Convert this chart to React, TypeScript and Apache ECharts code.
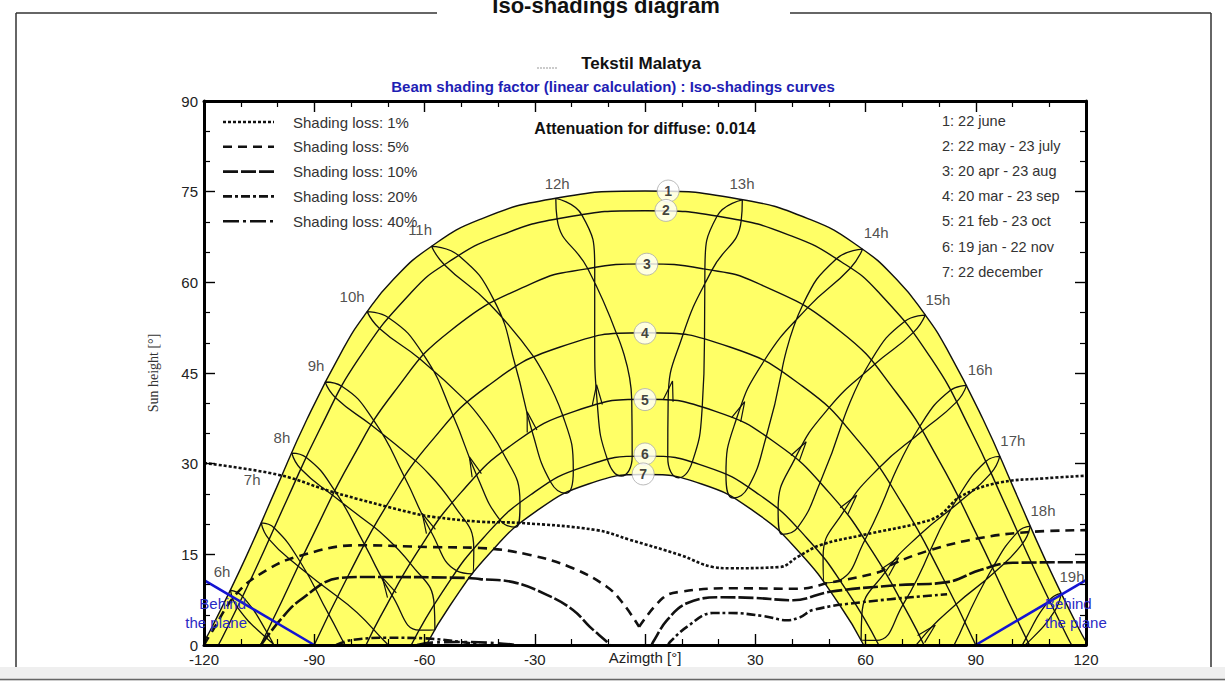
import { useEffect, useRef } from 'react';
import * as echarts from 'echarts';

const FONT = '"Liberation Sans", Arial, Helvetica, sans-serif';

// Sun paths [azimuth °, sun height °] for the seven date families
const path1 = [[-120.5, 0], [-117.4, 3.47], [-108.78, 14.29], [-100.53, 25.66], [-91.98, 37.34], [-82.06, 49.08], [-75.96, 54.86], [-68.5, 60.46], [-58.64, 65.72], [-44.9, 70.4], [-25.4, 73.79], [0, 75.1], [25.4, 73.79], [44.9, 70.4], [58.64, 65.72], [68.5, 60.46], [75.96, 54.86], [82.06, 49.08], [91.98, 37.34], [100.53, 25.66], [108.78, 14.29], [117.4, 3.47], [120.5, 0]];
const path2 = [[-116.1, 0], [-114.9, 1.36], [-106.1, 12.37], [-97.55, 23.87], [-88.56, 35.61], [-78.0, 47.28], [-63.5, 58.4], [-53.37, 63.41], [-39.8, 67.68], [-21.8, 70.73], [0, 71.85], [21.8, 70.73], [39.8, 67.68], [53.37, 63.41], [63.5, 58.4], [78.0, 47.28], [88.56, 35.61], [97.55, 23.87], [106.1, 12.37], [114.9, 1.36], [116.1, 0]];
const path3 = [[-104.6, 0], [-98.99, 7.04], [-89.86, 18.76], [-80.05, 30.47], [-68.37, 41.77], [-52.84, 52.04], [-30.45, 59.9], [-15.9, 62.22], [0, 63.05], [15.9, 62.22], [30.45, 59.9], [52.84, 52.04], [68.37, 41.77], [80.05, 30.47], [89.86, 18.76], [98.99, 7.04], [104.6, 0]];
const path4 = [[-90, 0], [-80.56, 11.71], [-70.29, 23.09], [-58.18, 33.68], [-42.94, 42.78], [-23.3, 49.26], [0, 51.65], [23.3, 49.26], [42.94, 42.78], [58.18, 33.68], [70.29, 23.09], [80.56, 11.71], [90, 0]];
const path5 = [[-75.9, 0], [-72.04, 4.64], [-61.89, 15.46], [-50.1, 25.21], [-35.94, 33.25], [-19.0, 38.7], [0, 40.65], [19.0, 38.7], [35.94, 33.25], [50.1, 25.21], [61.89, 15.46], [72.04, 4.64], [75.9, 0]];
const path6 = [[-63.6, 0], [-55.2, 8.7], [-44.07, 17.67], [-31.1, 24.85], [-16.17, 29.59], [0, 31.25], [16.17, 29.59], [31.1, 24.85], [44.07, 17.67], [55.2, 8.7], [63.6, 0]];
const path7 = [[-59.5, 0], [-53.1, 6.49], [-42.24, 15.19], [-29.67, 22.11], [-15.4, 26.63], [0, 28.2], [15.4, 26.63], [29.67, 22.11], [42.24, 15.19], [53.1, 6.49], [59.5, 0]];
const innerPaths = [path2, path3, path4, path5, path6];

// Numbered tags sitting on the date curves
const dateTags = [[6.3, 75.1], [5.7, 71.9], [0.5, 63.0], [0, 51.6], [0, 40.6], [0, 31.6], [-0.5, 28.3]];
const dateLegend = ['1: 22 june', '2: 22 may - 23 july', '3: 20 apr - 23 aug', '4: 20 mar - 23 sep', '5: 21 feb - 23 oct', '6: 19 jan - 22 nov', '7: 22 december'];

// Hour loops, sampled Sep, Oct, Nov, Dec, Jan, Feb, Mar, Apr, May, Jun, Jul, Aug and back to Sep
const h06 = [[-92.97, -3.76], [-83.02, -8.97], [-75.56, -14.9], [-74.65, -18.94], [-79.05, -19.6], [-87.48, -14.7], [-95.35, -6.73], [-102.89, 2.11], [-109.47, 8.01], [-112.8, 9.06], [-110.9, 6.21], [-103.45, 1.41], [-92.97, -3.76]];
const h07 = [[-83.63, 7.99], [-73.82, 2.54], [-66.85, -3.78], [-66.25, -7.86], [-70.48, -8.27], [-78.36, -3.03], [-86.01, 5.02], [-93.79, 13.73], [-100.88, 19.35], [-104.44, 20.19], [-102.28, 17.47], [-94.35, 13.02], [-83.63, 7.99]];
const h08 = [[-73.72, 19.51], [-63.88, 13.51], [-57.36, 6.62], [-57.17, 2.49], [-61.39, 2.46], [-68.87, 8.24], [-76.33, 16.64], [-84.38, 25.49], [-92.17, 31.03], [-96.13, 31.76], [-93.64, 29.11], [-84.99, 24.77], [-73.72, 19.51]];
const h09 = [[-62.33, 30.42], [-52.45, 23.5], [-46.59, 15.88], [-46.92, 11.78], [-51.2, 12.26], [-58.25, 18.78], [-65.41, 27.75], [-73.69, 37.03], [-82.41, 42.78], [-87.05, 43.51], [-84.13, 40.87], [-74.4, 36.34], [-62.33, 30.42]];
const h10 = [[-48.22, 40.1], [-38.78, 31.93], [-34.02, 23.51], [-35.09, 19.51], [-39.4, 20.63], [-45.78, 28.06], [-52.13, 37.82], [-60.1, 47.86], [-69.88, 54.19], [-75.62, 55.15], [-72.24, 52.37], [-61.06, 47.24], [-48.22, 40.1]];
const h11 = [[-30.12, 47.56], [-22.35, 37.93], [-19.51, 28.82], [-21.5, 25.09], [-25.69, 26.97], [-30.73, 35.36], [-35.15, 45.96], [-41.03, 56.97], [-50.7, 64.43], [-58.1, 65.96], [-54.6, 62.92], [-42.43, 56.49], [-30.12, 47.56]];
const h12 = [[-7.69, 51.42], [-3.61, 40.59], [-3.49, 31.18], [-6.45, 27.95], [-10.18, 30.6], [-12.96, 39.75], [-13.69, 50.85], [-13.68, 62.44], [-17.2, 71.17], [-24.27, 73.88], [-23.92, 70.5], [-15.56, 62.25], [-7.69, 51.42]];
const h13 = [[16.19, 50.52], [15.57, 39.36], [12.83, 30.21], [9.11, 27.67], [6.19, 31.01], [6.3, 40.44], [10.26, 51.21], [18.16, 61.98], [26.18, 70.2], [26.48, 73.65], [19.63, 70.97], [16.3, 62.18], [16.19, 50.52]];
const h14 = [[37.19, 45.2], [33.0, 34.49], [28.08, 26.09], [23.96, 24.31], [22.03, 28.13], [24.8, 37.27], [32.29, 46.9], [44.28, 55.81], [55.85, 62.34], [59.18, 65.49], [52.1, 63.9], [42.94, 56.3], [37.19, 45.2]];
const h15 = [[53.71, 36.8], [47.65, 26.87], [41.47, 19.38], [37.26, 18.31], [36.22, 22.4], [40.84, 30.88], [49.92, 39.14], [62.35, 46.35], [73.05, 51.72], [76.28, 54.59], [70.73, 53.56], [61.42, 46.99], [53.71, 36.8]];
const h16 = [[66.68, 26.59], [59.84, 17.37], [52.98, 10.72], [48.79, 10.28], [48.46, 14.46], [54.16, 22.19], [63.65, 29.29], [75.37, 35.38], [84.73, 40.18], [87.51, 42.95], [83.03, 42.1], [74.67, 36.07], [66.68, 26.59]];
const h17 = [[77.42, 15.4], [70.24, 6.71], [62.94, 0.76], [58.81, 0.77], [59.0, 4.97], [65.32, 12.03], [74.84, 18.29], [85.81, 23.78], [94.15, 28.43], [96.54, 31.2], [92.7, 30.35], [85.22, 24.49], [77.42, 15.4]];
const h18 = [[87.02, 3.76], [79.64, -4.64], [71.9, -10.1], [67.73, -9.73], [68.32, -5.57], [75.13, 0.97], [84.65, 6.73], [95.12, 12.03], [102.77, 16.8], [104.84, 19.65], [101.38, 18.68], [94.56, 12.74], [87.02, 3.76]];
const h19 = [[96.37, -7.99], [88.76, -16.33], [80.44, -21.5], [76.07, -20.9], [76.96, -16.8], [84.29, -10.6], [93.99, -5.02], [104.24, 0.45], [111.42, 5.57], [113.21, 8.53], [109.98, 7.37], [103.68, 1.14], [96.37, -7.99]];
const hourLoops = [h06, h07, h08, h09, h10, h11, h12, h13, h14, h15, h16, h17, h18, h19];
const hourNames = ['6h', '7h', '8h', '9h', '10h', '11h', '12h', '13h', '14h', '15h', '16h', '17h', '18h', '19h'];
const hourTagPos = [[-115.1, 12.1], [-106.9, 27.3], [-98.8, 34.4], [-89.5, 46.3], [-79.7, 57.7], [-61.2, 68.7], [-23.9, 76.4], [26.4, 76.4], [62.9, 68.2], [79.7, 57.1], [91.2, 45.5], [100.1, 33.9], [108.3, 22.3], [116.2, 11.3]];
// loops that carry a direction arrow (Feb -> Mar stretch)
const arrowLoops = [h08, h09, h10, h11, h12, h13, h14, h15, h16, h17, h18];

// Iso-shading curves [azimuth °, sun height °]
const loss1 = [[-120, 30.1], [-99.3, 28.1], [-84.9, 25.3], [-63.1, 21.8], [-57.7, 21.2], [-44.9, 20.4], [-34, 20.2], [-13.1, 19.0], [-4.1, 17.4], [9.5, 14.9], [18.5, 12.9], [23.1, 12.7], [36.7, 12.9], [41.6, 14.6], [47.6, 16.5], [59.3, 18.2], [74.8, 20.2], [80.3, 21.5], [85.7, 24.5], [95.8, 26.8], [109.4, 27.6], [120, 28.0]];
const loss5West = [[-120, 0], [-118.4, 1.65], [-111, 8.6], [-102.9, 12.4], [-94.7, 14.6], [-78.4, 16.5], [-57.7, 16.2], [-44.9, 16.05], [-31.3, 14.9], [-19.6, 12.7], [-10.3, 9.6], [-6.0, 6.9], [-1.6, 3.0]];
const loss5East = [[-1.6, 3.0], [4.9, 7.8], [9.5, 8.8], [23.1, 9.4], [41.4, 9.3], [50.3, 10.3], [63.9, 12.1], [66.7, 13.2], [77.6, 15.7], [91.2, 17.7], [104.8, 18.7], [120, 19.0]];
const loss10West = [[-104.5, 0], [-99.3, 4.1], [-93.9, 7.4], [-83, 11.1], [-75.6, 11.25], [-48.4, 11.1], [-44.9, 10.9], [-35.9, 10.4], [-26.7, 8.3], [-19.6, 5.8], [-15.0, 3.0], [-10.3, 0.5], [-9.6, 0]];
const loss10East = [[1.8, 0], [2.2, 0.5], [6.0, 4.1], [11.4, 6.9], [20.4, 7.9], [29.4, 7.8], [40.3, 7.4], [50.3, 8.8], [68.6, 9.9], [82.2, 10.4], [91.2, 12.4], [100.1, 13.6], [120, 13.7]];
const loss20West = [[-84, 0], [-80, 0.8], [-70, 1.2], [-60, 1.1], [-50, 0.5], [-45, 0]];
const loss20East = [[6.3, 0], [6.8, 0.5], [11.4, 3.0], [18.5, 5.3], [23.1, 5.3], [32.1, 4.8], [38.6, 4.1], [42.2, 4.6], [45.7, 5.8], [59.3, 7.1], [82.2, 8.4]];
const loss40 = [[-62, 0], [-58, 0.4], [-50, 0.5], [-40, 0.3], [-35, 0]];
const shadingLegend = ['Shading loss: 1%', 'Shading loss: 5%', 'Shading loss: 10%', 'Shading loss: 20%', 'Shading loss: 40%'];

// Horizon of the collector plane
const behindWest = [[-120, 10.75], [-90, 0]];
const behindEast = [[90, 0], [120, 10.75]];

const DASH1 = [3, 2];
const DASH5 = [9, 6];
const DASH10 = [15, 3];
const DASH20 = [9, 3, 3, 3];
const DASH40 = [16, 4, 3, 4];

const INK = '#111';
const BLUE = '#1414d2';

function lossLine(data: number[][], dash: number[]) {
  return {
    type: 'line', data, smooth: 0.4, symbol: 'none', z: 4, silent: true,
    lineStyle: { color: INK, width: 2.6, type: dash },
  };
}

function App() {
  const ref = useRef<HTMLDivElement>(null);

  useEffect(() => {
    if (!ref.current) return;
    const chart = echarts.init(ref.current, undefined, { renderer: 'svg' });

    const axisCommon = {
      type: 'value',
      z: 10,
      splitLine: { show: false },
      axisLine: { show: true, onZero: false, lineStyle: { color: '#000', width: 3 } },
      axisTick: { show: true, inside: true, length: 11, lineStyle: { color: '#000', width: 1.4 } },
      minorTick: { show: true, splitNumber: 3, length: 6, lineStyle: { color: '#000', width: 1.2 } },
    };

    const series: any[] = [];
    series.push({
      type: 'line', data: path1, smooth: true, symbol: 'none', z: 1, silent: true,
      lineStyle: { color: INK, width: 1.4 },
      areaStyle: { color: '#ffff66', opacity: 1, origin: 'start' },
    });
    series.push({
      type: 'line', data: path7, smooth: true, symbol: 'none', z: 2, silent: true,
      lineStyle: { color: INK, width: 1.4 },
      areaStyle: { color: '#ffffff', opacity: 1, origin: 'start' },
    });
    innerPaths.forEach((p) => series.push({
      type: 'line', data: p, smooth: true, symbol: 'none', z: 3, silent: true,
      lineStyle: { color: INK, width: 1.4 },
    }));
    hourLoops.forEach((p) => series.push({
      type: 'line', data: p, smooth: true, symbol: 'none', z: 3, silent: true,
      lineStyle: { color: INK, width: 1.3 },
    }));
    series.push({
      type: 'custom', z: 3, silent: true, clip: true,
      data: arrowLoops.map((p) => [p[5][0], p[5][1], p[6][0], p[6][1]]),
      encode: { x: [0, 2], y: [1, 3] },
      renderItem: (_params: any, api: any) => {
        const a = api.coord([api.value(0), api.value(1)]);
        const b = api.coord([api.value(2), api.value(3)]);
        let dx = b[0] - a[0];
        let dy = b[1] - a[1];
        const len = Math.hypot(dx, dy) || 1;
        dx /= len; dy /= len;
        const tip = [a[0] + dx * 20, a[1] + dy * 20];
        const l = [a[0] - dy * 5, a[1] + dx * 5];
        const r = [a[0] + dy * 5, a[1] - dx * 5];
        return {
          type: 'polyline',
          shape: { points: [l, tip, r] },
          style: { stroke: INK, lineWidth: 1.2, fill: null },
        };
      },
    });
    series.push(lossLine(loss1, DASH1));
    series.push(lossLine(loss5West, DASH5));
    series.push(lossLine(loss5East, DASH5));
    series.push(lossLine(loss10West, DASH10));
    series.push(lossLine(loss10East, DASH10));
    series.push(lossLine(loss20West, DASH20));
    series.push(lossLine(loss20East, DASH20));
    series.push(lossLine(loss40, DASH40));
    [behindWest, behindEast].forEach((p) => series.push({
      type: 'line', data: p, symbol: 'none', z: 5, silent: true,
      lineStyle: { color: BLUE, width: 2.6 },
    }));
    series.push({
      type: 'scatter', z: 6, silent: true, symbol: 'circle', symbolSize: 22,
      itemStyle: { color: '#fff', borderColor: '#aaa', borderWidth: 1 },
      label: {
        show: true, position: 'inside', formatter: '{b}',
        fontFamily: FONT, fontSize: 14, fontWeight: 'bold', color: INK,
      },
      data: dateTags.map((v, i) => ({ name: String(i + 1), value: v })),
    });
    series.push({
      type: 'scatter', z: 6, silent: true, symbol: 'circle', symbolSize: 1,
      itemStyle: { color: 'rgba(0,0,0,0)' },
      label: {
        show: true, position: 'inside', formatter: '{b}',
        fontFamily: FONT, fontSize: 15, color: '#222',
      },
      data: hourTagPos.map((v, i) => ({ name: hourNames[i], value: v })),
    });

    const graphic: any[] = [];
    const text = (t: string, x: number, y: number, o: any = {}) => graphic.push({
      type: 'text', x, y, z: 20, silent: true,
      style: {
        text: t, fill: o.fill || '#222', fontFamily: FONT, fontSize: o.size || 15,
        fontWeight: o.bold ? 'bold' : 'normal', align: o.align || 'left', verticalAlign: 'middle',
      },
    });
    const rule = (x1: number, y1: number, x2: number, y2: number, stroke: string, lineWidth: number, lineDash?: number[]) =>
      graphic.push({
        type: 'line', z: 20, silent: true,
        shape: { x1, y1, x2, y2 },
        style: { stroke, lineWidth, lineDash },
      });

    // outer panel frame with its caption
    graphic.push({ type: 'rect', z: 19, silent: true, shape: { x: 0, y: 667, width: 1225, height: 14 }, style: { fill: '#efefef' } });
    rule(0, 679.5, 1225, 679.5, '#666', 1.5);
    rule(16, 13, 437, 13, '#333', 1.5);
    rule(790, 13, 1211, 13, '#333', 1.5);
    rule(16, 13, 16, 667, '#333', 1.5);
    rule(1211, 13, 1211, 667, '#333', 1.5);
    text('Iso-shadings diagram', 606, 5, { bold: true, size: 22, align: 'center', fill: '#111' });

    rule(537, 68, 557, 68, '#bbb', 1.5, [2, 1]);
    text('Tekstil Malatya', 641, 63, { bold: true, size: 17, align: 'center', fill: '#111' });
    text('Beam shading factor (linear calculation) : Iso-shadings curves', 613, 86, { bold: true, size: 15, align: 'center', fill: '#1e1eb4' });
    text('Attenuation for diffuse: 0.014', 645, 128, { bold: true, size: 16, align: 'center', fill: '#111' });

    const dashes = [DASH1, DASH5, DASH10, DASH20, DASH40];
    shadingLegend.forEach((t, i) => {
      const y = 122 + i * 24.8;
      rule(223, y, 274, y, INK, 2.6, dashes[i]);
      text(t, 293, y, { size: 15, fill: '#333' });
    });
    dateLegend.forEach((t, i) => text(t, 942, 121 + i * 25.1, { size: 14.5, fill: '#333' }));

    text('Behind', 246, 603, { size: 15, align: 'right', fill: '#2a2ac4' });
    text('the plane', 247, 622, { size: 15, align: 'right', fill: '#2a2ac4' });
    text('Behind', 1045, 603, { size: 15, fill: '#2a2ac4' });
    text('the plane', 1045, 622, { size: 15, fill: '#2a2ac4' });

    chart.setOption({
      animation: false,
      backgroundColor: '#fff',
      grid: { left: 204, right: 139, top: 101, bottom: 36, containLabel: false, outerBoundsMode: 'none' },
      xAxis: [
        {
          ...axisCommon, position: 'bottom', min: -120, max: 120, interval: 30,
          axisLabel: {
            fontFamily: FONT, fontSize: 15, color: '#222', margin: 7,
            formatter: (v: number) => (v === 0 ? '' : String(v)),
          },
          name: 'Azimgth [°]', nameLocation: 'middle', nameGap: 5, nameMoveOverlap: false,
          nameTextStyle: { fontFamily: FONT, fontSize: 15, color: '#222', verticalAlign: 'top' },
        },
        { ...axisCommon, position: 'top', min: -120, max: 120, interval: 30, axisLabel: { show: false } },
      ],
      yAxis: [
        {
          ...axisCommon, position: 'left', min: 0, max: 90, interval: 15,
          axisLabel: { fontFamily: FONT, fontSize: 15, color: '#222', margin: 6 },
          name: 'Sun height [°]', nameLocation: 'middle', nameGap: 44, nameRotate: 90, nameMoveOverlap: false,
          nameTextStyle: { fontFamily: '"Liberation Serif", "DejaVu Serif", serif', fontSize: 14, color: '#333' },
        },
        { ...axisCommon, position: 'right', min: 0, max: 90, interval: 15, axisLabel: { show: false } },
      ],
      series,
      graphic,
    });

    return () => chart.dispose();
  }, []);

  return <div ref={ref} style={{ position: 'fixed', left: 0, top: 0, width: 1225, height: 681 }} />;
}

export default App;
